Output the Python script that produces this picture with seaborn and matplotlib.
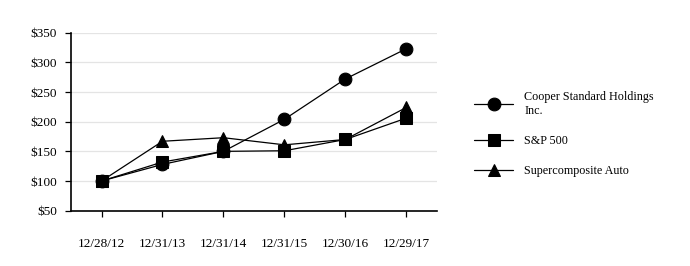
import matplotlib
matplotlib.use("Agg")
import matplotlib.pyplot as plt
import seaborn as sns
import pandas as pd

dates = ["12/28/12", "12/31/13", "12/31/14", "12/31/15", "12/30/16", "12/29/17"]
cooper = [100, 128, 150, 204, 272, 323]
sp500 = [100, 132, 150, 151, 170, 206]
auto = [100, 167, 173, 161, 170, 224]
series_names = ["Cooper Standard Holdings\nInc.", "S&P 500", "Supercomposite Auto"]
y_ticks = [50, 100, 150, 200, 250, 300, 350]

sns.set_theme(style="white")
plt.rcParams["font.family"] = ["Liberation Serif", "DejaVu Serif"]

fig = plt.figure(figsize=(6.9, 2.66), dpi=100)
ax = fig.add_axes([0.103, 0.208, 0.530, 0.669])

x = list(range(len(dates)))
styles = {
    series_names[0]: (cooper, "o", 9.2),
    series_names[2]: (auto, "^", 9.0),
    series_names[1]: (sp500, "s", 8.8),
}
for name in [series_names[0], series_names[2], series_names[1]]:
    vals, mk, ms = styles[name]
    df = pd.DataFrame({"x": x, "y": vals})
    sns.lineplot(data=df, x="x", y="y", ax=ax, color="black", linewidth=0.9,
                 marker=mk, markersize=ms, markeredgecolor="black",
                 markerfacecolor="black", label=name)

ax.set_xlim(-0.5, 5.5)
ax.set_ylim(50, 350)
ax.set_xticks(x)
ax.set_xticklabels(dates)
ax.set_yticks(y_ticks)
ax.set_yticklabels([f"${v}" for v in y_ticks])
ax.set_xlabel("")
ax.set_ylabel("")
ax.grid(axis="y", color="#e4e4e4", linewidth=0.9)
ax.set_axisbelow(True)
for s in ["top", "right"]:
    ax.spines[s].set_visible(False)
for s in ["left", "bottom"]:
    ax.spines[s].set_color("black")
    ax.spines[s].set_linewidth(1.2)
ax.tick_params(axis="both", which="both", length=4, width=0.9, color="black",
               labelsize=9.5, labelcolor="black", direction="out",
               bottom=True, left=True)
ax.tick_params(axis="x", pad=16)
ax.tick_params(axis="y", pad=6)

h, l = ax.get_legend_handles_labels()
order = [l.index(n) for n in series_names]
leg = ax.legend([h[i] for i in order], [l[i] for i in order],
                loc="center left", bbox_to_anchor=(1.071, 0.43),
                frameon=False, fontsize=8.7, handlelength=3.3,
                handletextpad=0.9, labelspacing=1.5)
for t in leg.get_texts():
    t.set_color("black")

fig.savefig("out.png", dpi=100)
